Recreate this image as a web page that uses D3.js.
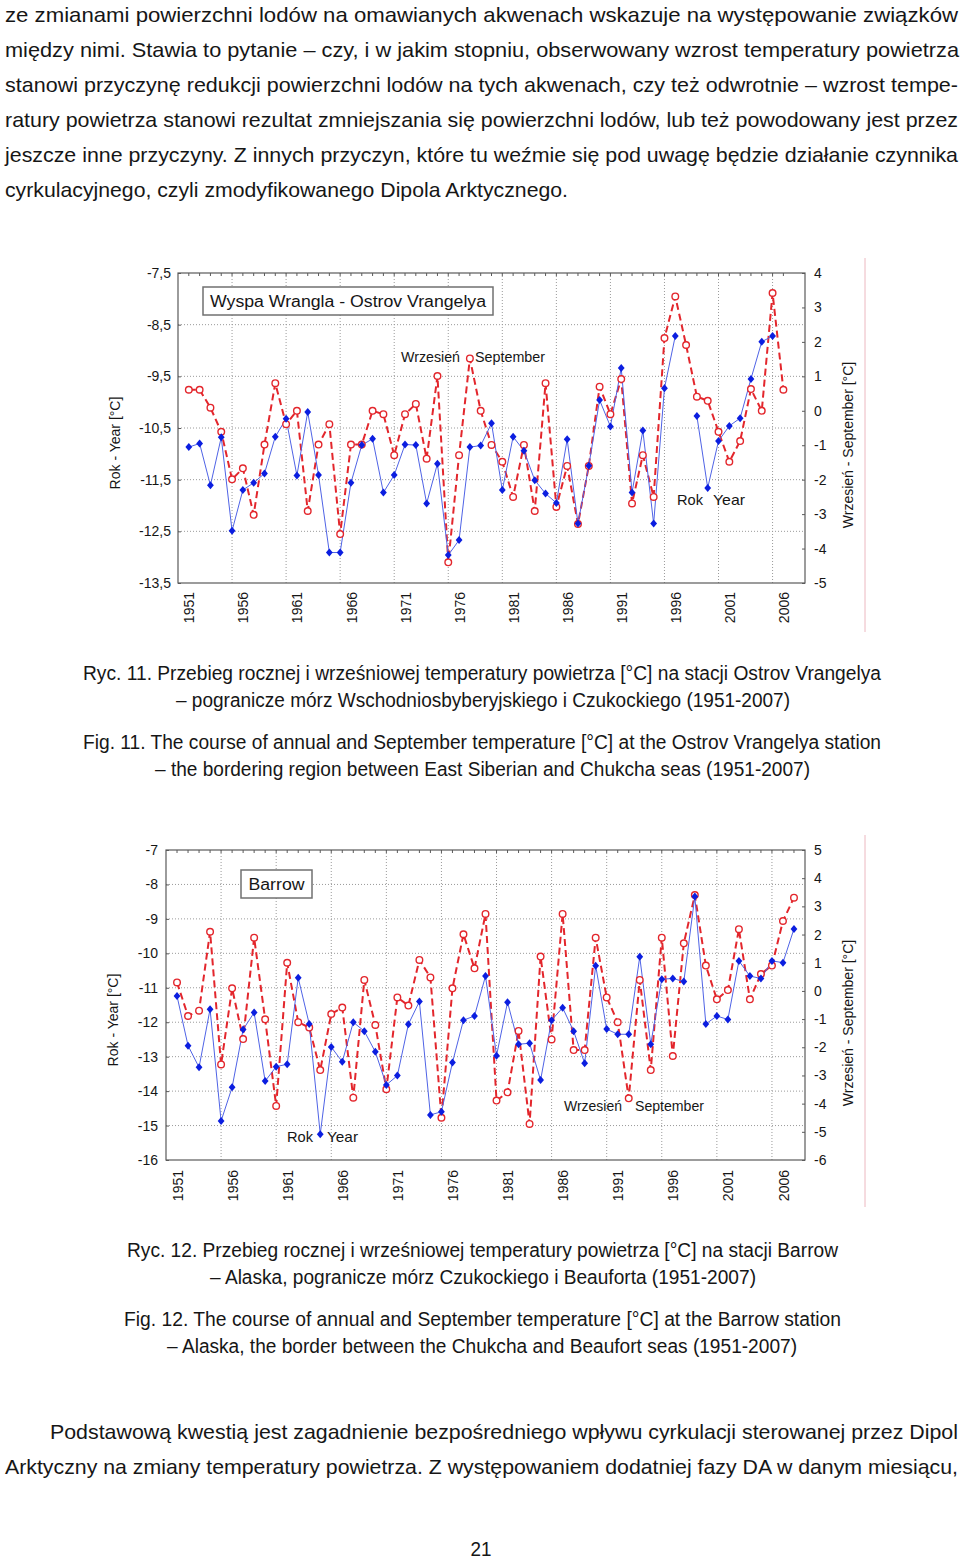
<!DOCTYPE html>
<html><head><meta charset="utf-8">
<script src="https://cdn.jsdelivr.net/npm/d3@7"></script>
<style>body{margin:0;background:#fff}svg{display:block}</style>
</head><body><svg id="page" width="960" height="1562"></svg>
<script>
// ---------------- DATA ----------------
const years1 = [1951,1952,1953,1954,1955,1956,1957,1958,1959,1960,1961,1962,1963,1964,1965,1966,1967,1968,1969,1970,
  1971,1972,1973,1974,1975,1976,1977,1978,1979,1980,1981,1982,1983,1984,1985,1986,1987,1988,1989,1990,
  1991,1992,1993,1994,1995,1996,1997,1998,1999,2000,2001,2002,2003,2004,2005,2006];
const annual1 = [-10.87,-10.80,-11.61,-10.68,-12.49,-11.70,-11.56,-11.38,-10.67,-10.32,
  -11.42,-10.19,-11.41,-12.91,-12.91,-11.56,-10.83,-10.71,-11.75,-11.41,
  -10.82,-10.83,-11.96,-11.19,-12.96,-12.67,-10.87,-10.84,-10.41,-11.70,
  -10.67,-10.94,-11.51,-11.77,-11.95,-10.72,-12.35,-11.23,-9.96,-10.47,
  -9.34,-11.75,-10.55,-12.35,-9.73,-8.72,null,-10.27,-11.66,-10.75,
  -10.46,-10.31,-9.55,-8.83,-8.72,null];
const sept1 = [0.61,0.61,0.09,-0.61,-1.99,-1.67,-3.02,-0.98,0.80,-0.39,
  0.00,-2.91,-0.98,-0.39,-3.58,-0.98,-0.98,0.00,-0.10,-1.29,
  -0.10,0.20,-1.39,1.01,-4.40,-1.29,1.52,0.00,-0.99,-1.48,
  -2.50,-0.99,-2.91,0.80,-2.79,-1.60,-3.29,-1.60,0.70,-0.10,
  0.92,-2.69,-1.29,-2.50,2.11,3.32,1.91,0.41,0.29,-0.61,
  -1.48,-0.88,0.63,0.00,3.42,0.61];

const years2 = [1951,1952,1953,1954,1955,1956,1957,1958,1959,1960,1961,1962,1963,1964,1965,1966,1967,1968,1969,1970,
  1971,1972,1973,1974,1975,1976,1977,1978,1979,1980,1981,1982,1983,1984,1985,1986,1987,1988,1989,1990,
  1991,1992,1993,1994,1995,1996,1997,1998,1999,2000,2001,2002,2003,2004,2005,2006,2007];
const annual2 = [-11.24,-12.68,-13.31,-11.62,-14.87,-13.89,-12.21,-11.72,-13.71,-13.29,
  -13.22,-10.71,-12.05,-15.25,-12.72,-13.15,-12.00,-12.26,-12.86,-13.82,
  -13.55,-12.06,-11.40,-14.69,-14.60,-13.17,-11.94,-11.82,-10.66,-12.97,
  -11.42,-12.64,-12.61,-13.68,-11.94,-11.58,-12.26,-13.19,-10.36,-12.20,
  -12.35,-12.35,-10.10,-12.64,-10.75,-10.73,-10.82,-8.35,-12.05,-11.82,
  -11.92,-10.22,-10.66,-10.73,-10.22,-10.27,-9.29];
const sept2 = [0.30,-0.89,-0.70,2.10,-2.61,0.09,-1.71,1.89,-1.01,-4.08,
  1.00,-1.11,-1.30,-2.81,-0.82,-0.59,-3.79,0.39,-1.21,-3.49,
  -0.23,-0.52,1.10,0.48,-4.50,0.09,2.01,0.80,2.73,-3.89,
  -3.60,-1.42,-4.72,1.22,-1.72,2.73,-2.10,-2.10,1.89,-0.23,
  -1.11,-3.81,0.39,-2.81,1.89,-2.31,1.69,3.40,0.90,-0.30,
  0.03,2.19,-0.30,0.60,0.90,2.48,3.31];

const yearLabels = [1951,1956,1961,1966,1971,1976,1981,1986,1991,1996,2001,2006];
const gridYears = [1955,1960,1965,1970,1975,1980,1985,1990,1995,2000,2005];
const leftTicks1 = [-7.5,-8.5,-9.5,-10.5,-11.5,-12.5,-13.5];
const rightTicks1 = [4,3,2,1,0,-1,-2,-3,-4,-5];
const leftTicks2 = [-7,-8,-9,-10,-11,-12,-13,-14,-15,-16];
const rightTicks2 = [5,4,3,2,1,0,-1,-2,-3,-4,-5,-6];

// ---------------- STYLE ----------------
const FONT = "'Liberation Sans', Arial, 'DejaVu Sans', sans-serif";
const TXT = "#161616";
const BLUE_LINE = "#4f63e6";
const BLUE_MARK = "#0b1ee0";
const RED = "#e3262c";
const GRID = "#9a9a9a";
const FRAME = "#5a5a5a";

const loc = d3.formatLocale({decimal: ",", thousands: " ", grouping: [3], currency: ["", ""], minus: "-"});
const fmt1 = loc.format(".1f");
const fmt0 = loc.format("d");

const svg = d3.select("#page");
svg.append("rect").attr("width", 960).attr("height", 1562).attr("fill", "#fff");

// diamond symbol
const diamond = { draw(ctx, size) { const h = 4, w = 3.4; ctx.moveTo(0,-h); ctx.lineTo(w,0); ctx.lineTo(0,h); ctx.lineTo(-w,0); ctx.closePath(); } };

function textLine(g, str, x, y, len, size, anchor) {
  const t = g.append("text").attr("x", x).attr("y", y).attr("font-family", FONT)
    .attr("font-size", size).attr("fill", TXT).text(str);
  if (anchor) t.attr("text-anchor", anchor);
  if (len) t.attr("textLength", len).attr("lengthAdjust", "spacingAndGlyphs");
  return t;
}

function drawChart(cfg) {
  const g = svg.append("g");
  const x = d3.scaleLinear().domain([1950, 2008]).range([cfg.left, cfg.right]);
  const yL = d3.scaleLinear().domain(cfg.leftDomain).range([cfg.bottom, cfg.top]);
  const yR = d3.scaleLinear().domain(cfg.rightDomain).range([cfg.bottom, cfg.top]);

  // gridlines
  g.append("g").selectAll("line").data(gridYears).join("line")
    .attr("x1", d => x(d)).attr("x2", d => x(d)).attr("y1", cfg.top).attr("y2", cfg.bottom)
    .attr("stroke", GRID).attr("stroke-width", 1).attr("stroke-dasharray", "1,2");
  g.append("g").selectAll("line").data(cfg.leftTicks.slice(1, -1)).join("line")
    .attr("x1", cfg.left).attr("x2", cfg.right).attr("y1", d => yL(d)).attr("y2", d => yL(d))
    .attr("stroke", GRID).attr("stroke-width", 1).attr("stroke-dasharray", "1,2");

  // top minor ticks (each year)
  g.append("g").selectAll("line").data(cfg.years).join("line")
    .attr("x1", d => x(d)).attr("x2", d => x(d)).attr("y1", cfg.top).attr("y2", cfg.top + 3)
    .attr("stroke", FRAME).attr("stroke-width", 1);

  // left axis
  const ax = g.append("g").attr("transform", `translate(${cfg.left},0)`)
    .call(d3.axisLeft(yL).tickValues(cfg.leftTicks).tickFormat(cfg.leftFmt).tickSizeInner(-3).tickSizeOuter(0).tickPadding(cfg.leftPad));
  ax.select(".domain").remove();
  ax.selectAll("line").attr("stroke", FRAME);
  ax.selectAll("text").attr("font-family", FONT).attr("font-size", 14).attr("fill", TXT);

  // right axis
  const ar = g.append("g").attr("transform", `translate(${cfg.right},0)`)
    .call(d3.axisRight(yR).tickValues(cfg.rightTicks).tickFormat(fmt0).tickSizeInner(-3).tickSizeOuter(0).tickPadding(9));
  ar.select(".domain").remove();
  ar.selectAll("line").attr("stroke", FRAME);
  ar.selectAll("text").attr("font-family", FONT).attr("font-size", 14).attr("fill", TXT);

  // bottom axis labels (rotated)
  const ab = g.append("g").attr("transform", `translate(0,${cfg.bottom})`)
    .call(d3.axisBottom(x).tickValues(yearLabels).tickFormat(d3.format("d")).tickSize(0));
  ab.select(".domain").remove();
  ab.selectAll("text").attr("font-family", FONT).attr("font-size", 14).attr("fill", TXT)
    .attr("transform", "rotate(-90)").attr("text-anchor", "end")
    .attr("x", -cfg.labelGap).attr("y", 0).attr("dy", "0.36em");

  // frame
  g.append("rect").attr("x", cfg.left).attr("y", cfg.top)
    .attr("width", cfg.right - cfg.left).attr("height", cfg.bottom - cfg.top)
    .attr("fill", "none").attr("stroke", FRAME).attr("stroke-width", 1.2);

  // September series (red dashed, open circles)
  const sData = cfg.years.map((yr, i) => ({yr, v: cfg.sept[i]}));
  const aData = cfg.years.map((yr, i) => ({yr, v: cfg.annual[i]}));
  const lineS = d3.line().defined(d => d.v != null).x(d => x(d.yr)).y(d => yR(d.v));
  const lineA = d3.line().defined(d => d.v != null).x(d => x(d.yr)).y(d => yL(d.v));

  g.append("path").datum(sData).attr("d", lineS).attr("fill", "none")
    .attr("stroke", RED).attr("stroke-width", 2).attr("stroke-dasharray", "7,4");
  g.append("path").datum(aData).attr("d", lineA).attr("fill", "none")
    .attr("stroke", BLUE_LINE).attr("stroke-width", 1);
  g.append("g").selectAll("circle").data(sData.filter(d => d.v != null)).join("circle")
    .attr("cx", d => x(d.yr)).attr("cy", d => yR(d.v)).attr("r", 3.3)
    .attr("fill", "#fff").attr("stroke", RED).attr("stroke-width", 1.4);
  g.append("g").selectAll("path").data(aData.filter(d => d.v != null)).join("path")
    .attr("transform", d => `translate(${x(d.yr)},${yL(d.v)})`)
    .attr("d", d3.symbol().type(diamond)).attr("fill", BLUE_MARK);

  // axis titles
  g.append("text").attr("transform", `translate(${cfg.leftTitleX},${cfg.leftTitleY}) rotate(-90)`)
    .attr("text-anchor", "middle").attr("font-family", FONT).attr("font-size", 14).attr("fill", TXT)
    .text("Rok - Year [°C]");
  g.append("text").attr("transform", `translate(${cfg.rightTitleX},${cfg.rightTitleY}) rotate(-90)`)
    .attr("text-anchor", "middle").attr("font-family", FONT).attr("font-size", 14).attr("fill", TXT)
    .text("Wrzesień - September [°C]");

  // title box
  const b = cfg.box;
  g.append("rect").attr("x", b.x).attr("y", b.y).attr("width", b.w).attr("height", b.h)
    .attr("fill", "#fff").attr("stroke", "#707070").attr("stroke-width", 1.5);
  textLine(g, cfg.title, b.x + b.w / 2, b.y + b.h / 2 + 6, b.tl, 16, "middle");

  // series labels
  cfg.labels.forEach(l => textLine(g, l.t, l.x, l.y, l.len, 15));

  // pink side line
  g.append("line").attr("x1", 865).attr("x2", 865).attr("y1", cfg.sideTop).attr("y2", cfg.sideBottom)
    .attr("stroke", "#ecb8c0").attr("stroke-width", 1);
}

drawChart({
  left: 178, right: 805, top: 273, bottom: 583,
  leftDomain: [-13.5, -7.5], rightDomain: [-5, 4],
  leftTicks: leftTicks1, rightTicks: rightTicks1, leftFmt: fmt1, leftPad: 7,
  years: years1, annual: annual1, sept: sept1, labelGap: 9,
  leftTitleX: 120, leftTitleY: 443, rightTitleX: 853, rightTitleY: 445,
  box: {x: 203, y: 287, w: 290, h: 28, tl: 276},
  title: "Wyspa Wrangla - Ostrov Vrangelya",
  labels: [
    {t: "Wrzesień", x: 401, y: 362, len: 59},
    {t: "September", x: 475, y: 362, len: 70},
    {t: "Rok", x: 677, y: 505, len: 26},
    {t: "Year", x: 713, y: 505, len: 32}
  ],
  sideTop: 258, sideBottom: 632
});

drawChart({
  left: 166, right: 805, top: 850, bottom: 1160,
  leftDomain: [-16, -7], rightDomain: [-6, 5],
  leftTicks: leftTicks2, rightTicks: rightTicks2, leftFmt: fmt0, leftPad: 8,
  years: years2, annual: annual2, sept: sept2, labelGap: 10,
  leftTitleX: 118, leftTitleY: 1020, rightTitleX: 853, rightTitleY: 1023,
  box: {x: 241, y: 870, w: 71, h: 28, tl: 56},
  title: "Barrow",
  labels: [
    {t: "Rok", x: 287, y: 1142, len: 26},
    {t: "Year", x: 327, y: 1142, len: 31},
    {t: "Wrzesień", x: 564, y: 1111, len: 58},
    {t: "September", x: 635, y: 1111, len: 69}
  ],
  sideTop: 835, sideBottom: 1207
});

// ---------------- PAGE TEXT ----------------
const tg = svg.append("g");
const para1 = [
  {t: "ze zmianami powierzchni lodów na omawianych akwenach wskazuje na występowanie związków", x: 5, y: 22, len: 953},
  {t: "między nimi. Stawia to pytanie – czy, i w jakim stopniu, obserwowany wzrost temperatury powietrza", x: 5, y: 57, len: 954},
  {t: "stanowi przyczynę redukcji powierzchni lodów na tych akwenach, czy też odwrotnie – wzrost tempe-", x: 5, y: 92, len: 953},
  {t: "ratury powietrza stanowi rezultat zmniejszania się powierzchni lodów, lub też powodowany jest przez", x: 5, y: 127, len: 953},
  {t: "jeszcze inne przyczyny. Z innych przyczyn, które tu weźmie się pod uwagę będzie działanie czynnika", x: 5, y: 162, len: 953},
  {t: "cyrkulacyjnego, czyli zmodyfikowanego Dipola Arktycznego.", x: 5, y: 197, len: 563}
];
para1.forEach(l => textLine(tg, l.t, l.x, l.y, l.len, 21));

const captions = [
  {t: "Ryc. 11. Przebieg rocznej i wrześniowej temperatury powietrza [°C] na stacji Ostrov Vrangelya", x: 83, y: 680, len: 798},
  {t: "– pogranicze mórz Wschodniosbyberyjskiego i Czukockiego (1951-2007)", x: 176, y: 707, len: 614},
  {t: "Fig. 11. The course of annual and September temperature [°C] at the Ostrov Vrangelya station", x: 83, y: 749, len: 798},
  {t: "– the bordering region between East Siberian and Chukcha seas (1951-2007)", x: 155, y: 776, len: 655},
  {t: "Ryc. 12. Przebieg rocznej i wrześniowej temperatury powietrza [°C] na stacji Barrow", x: 127, y: 1257, len: 711},
  {t: "– Alaska, pogranicze mórz Czukockiego i Beauforta (1951-2007)", x: 210, y: 1284, len: 546},
  {t: "Fig. 12.  The course of annual and September temperature [°C] at the Barrow station", x: 124, y: 1326, len: 717},
  {t: "– Alaska, the border between the Chukcha and Beaufort seas (1951-2007)", x: 167, y: 1353, len: 630}
];
captions.forEach(l => textLine(tg, l.t, l.x, l.y, l.len, 20));

const para2 = [
  {t: "Podstawową kwestią jest zagadnienie bezpośredniego wpływu cyrkulacji sterowanej przez Dipol", x: 50, y: 1439, len: 908},
  {t: "Arktyczny na zmiany temperatury powietrza. Z występowaniem dodatniej fazy DA w danym miesiącu,", x: 5, y: 1474, len: 953}
];
para2.forEach(l => textLine(tg, l.t, l.x, l.y, l.len, 21));
textLine(tg, "21", 481, 1556, 21, 20, "middle");
</script>
</body></html>
